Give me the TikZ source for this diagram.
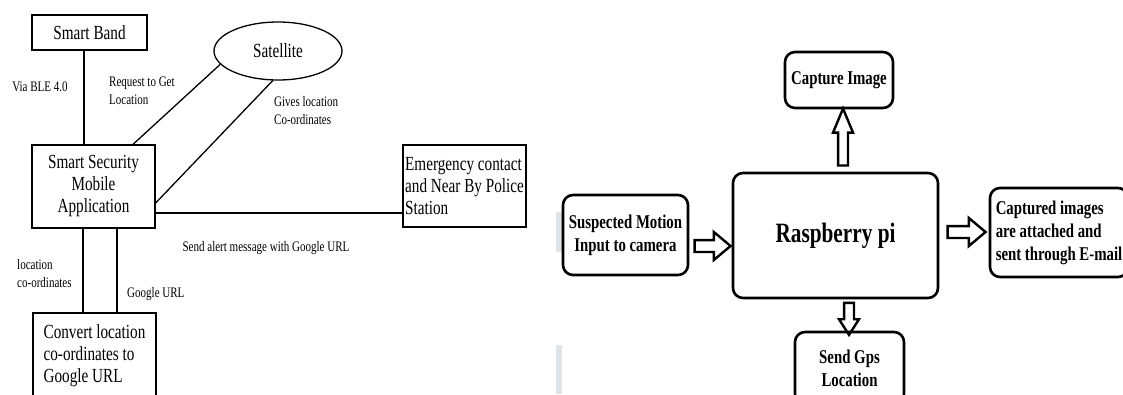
\documentclass[tikz,border=0pt]{standalone}
\usepackage{fontspec}
\setmainfont{Liberation Serif}[FakeStretch=0.76]
\usetikzlibrary{shapes.geometric}
\usetikzlibrary{shapes.arrows}
\usetikzlibrary{positioning}
\definecolor{sepgray}{RGB}{221,227,230}
\tikzset{
  sqbox/.style={draw, line width=1.3pt, inner sep=2pt, font=\fontsize{20}{22}\selectfont},
  edgelbl/.style={inner sep=0pt, align=left, font=\fontsize{14.5}{18}\selectfont},
  conn/.style={line width=1.3pt},
  rbox/.style={draw, line width=2.6pt, rounded corners=10pt, inner sep=3pt, align=center, font=\bfseries\fontsize{19.5}{23}\selectfont},
  blockarrow/.style={single arrow, draw, line width=2.4pt, inner xsep=0pt, single arrow head indent=0pt}
}

\begin{document}
\begin{tikzpicture}[x=1pt,y=-1pt]
\useasboundingbox (0,0) rectangle (1123,394);
\clip (0,0) rectangle (1123,394);

% smart band side
\node[sqbox, minimum width=115pt, minimum height=35pt] (band) at (89.5,32.5) {Smart Band};
\node[draw, ellipse, line width=1.3pt, minimum width=128pt, minimum height=58pt, font=\fontsize{20}{22}\selectfont] (sat) at (278,51) {Satellite};
\node[sqbox, minimum width=123pt, minimum height=83pt, align=center] (mobile) at (93.5,186.5) {Smart Security\\Mobile\\Application};
\node[sqbox, minimum width=123pt, minimum height=82pt, inner xsep=1pt, align=left] (emerg) at (464.5,186) {Emergency contact\\and Near By Police\\Station};
\node[sqbox, minimum width=123pt, minimum height=86pt, align=left] (conv) at (94.5,356) {Convert location\\co-ordinates to\\Google URL};

\node[edgelbl] (ble) at (40,87) {Via BLE 4.0};
\node[edgelbl, anchor=north west] (req) at (109,77) {Request to Get\\Location};
\node[edgelbl, anchor=north west] (gives) at (274,96) {Gives location\\Co-ordinates};
\node[edgelbl] (alert) at (266,248) {Send alert message with Google URL};
\node[edgelbl, anchor=north west] (coord) at (17,259.5) {location\\co-ordinates};
\node[edgelbl, anchor=west] (gurl) at (127,294) {Google URL};

\draw[conn] (band.south -| 84,0) -- (mobile.north -| 84,0);
\draw[conn] (sat.193) -- (mobile.north -| 133,0);
\draw[conn] (sat.260) -- (mobile.east |- 0,203);
\draw[conn] (mobile.east |- 0,213) -- (emerg.west |- 0,213);
\draw[conn] (mobile.south -| 83,0) -- (conv.north -| 83,0);
\draw[conn] (mobile.south -| 117,0) -- (conv.north -| 117,0);

% separator marks
\fill[sepgray] (556,212) rectangle (562,252);
\fill[sepgray] (556,345) rectangle (562,394);

% raspberry pi side
\node[rbox, minimum width=108pt, minimum height=56pt] (capture) at (839,80) {Capture Image};
\node[rbox, minimum width=205pt, minimum height=125pt, font=\bfseries\fontsize{28}{30}\selectfont] (rasp) at (835.5,235.5) {Raspberry pi};
\node[rbox, minimum width=125pt, minimum height=80pt] (susp) at (625.5,235) {Suspected Motion\\Input to camera};
\node[rbox, minimum width=138pt, minimum height=89pt, align=left] (capt) at (1059,232.5) {Captured images\\are attached and\\sent through E-mail};
\node[rbox, minimum width=109pt, minimum height=72pt] (gps) at (849.5,368) {Send Gps\\Location};

\node[blockarrow, rotate=90, minimum height=57pt, inner ysep=3.75pt, single arrow head extend=5pt, single arrow tip angle=45] (uparr) at (843,143) {};
\node[blockarrow, minimum height=36pt, inner ysep=4.75pt, single arrow head extend=8pt, single arrow tip angle=80] (inarr) at (709,246) {};
\node[blockarrow, minimum height=38pt, inner ysep=4.75pt, single arrow head extend=8pt, single arrow tip angle=80] (outarr) at (963,232) {};
\node[blockarrow, rotate=-90, minimum height=32pt, inner ysep=3.75pt, single arrow head extend=5pt, single arrow tip angle=65] (dnarr) at (849,315) {};

\end{tikzpicture}
\end{document}
